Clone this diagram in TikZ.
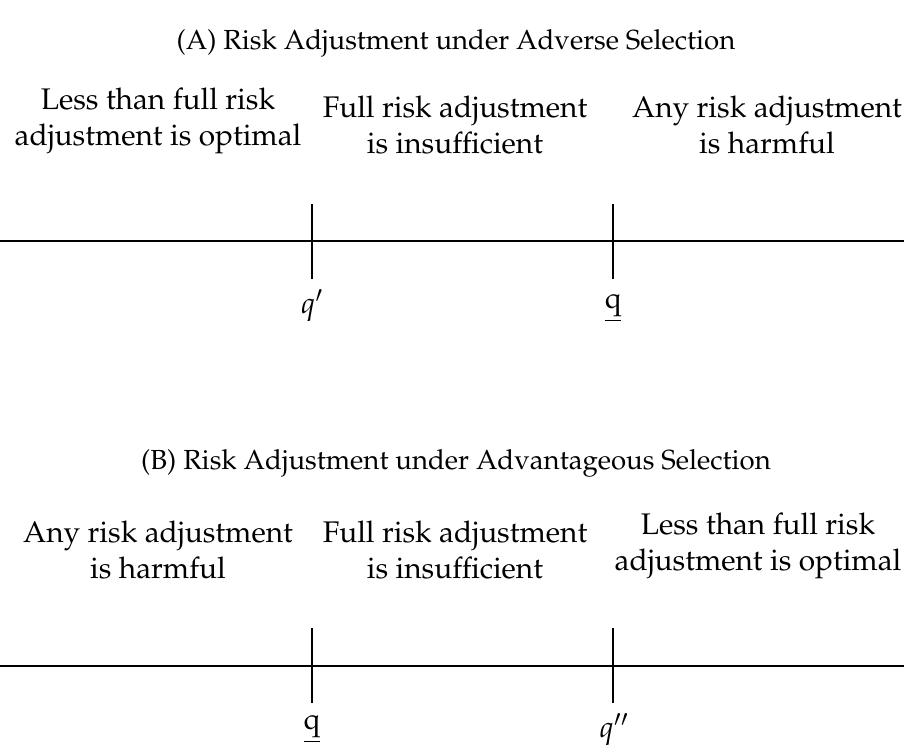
\documentclass[tikz,border=0pt]{standalone}
\usepackage[T1]{fontenc}
\usepackage{mathpazo}
\begin{document}
\begin{tikzpicture}[x=1pt,y=-1pt,
  lbl/.style={align=center,inner sep=0pt,anchor=south,font=\fontsize{29.8}{36}\selectfont},
  ttl/.style={inner sep=0pt,anchor=base,font=\fontsize{27.6}{34}\selectfont},
  mlab/.style={inner sep=0pt,anchor=base,font=\fontsize{29.5}{36}\selectfont},
  axis/.style={line width=1.8pt},
  tick/.style={line width=1.8pt}]
\useasboundingbox (0,0) rectangle (904,744);
% Panel A
\node[ttl] (titleA) at (456,49) {(A) Risk Adjustment under Adverse Selection};
\node[lbl] (a1) at (158,154.5) {Less than full risk\\adjustment is optimal};
\node[lbl] (a2) at (455,154.5) {Full risk adjustment\\is insufficient};
\node[lbl] (a3) at (767,154.5) {Any risk adjustment\\is harmful};
\coordinate (axAL) at (0,241);
\coordinate (axAR) at (904,241);
\draw[axis] (axAL) -- (axAR);
\coordinate (tA1t) at (312,204);
\coordinate (tA1b) at (312,279);
\coordinate (tA2t) at (613,204);
\coordinate (tA2b) at (613,279);
\draw[tick] (tA1t) -- (tA1b);
\draw[tick] (tA2t) -- (tA2b);
\node[mlab] (qpA) at (312,313) {$q'$};
\node[mlab] (qA) at (613,308) {$\underline{\mathrm{q}}$};
% Panel B
\node[ttl] (titleB) at (456,469) {(B) Risk Adjustment under Advantageous Selection};
\node[lbl] (b1) at (158,579) {Any risk adjustment\\is harmful};
\node[lbl] (b2) at (455,579) {Full risk adjustment\\is insufficient};
\node[lbl] (b3) at (758,579) {Less than full risk\\adjustment is optimal};
\coordinate (axBL) at (0,666);
\coordinate (axBR) at (904,666);
\draw[axis] (axBL) -- (axBR);
\coordinate (tB1t) at (312,628);
\coordinate (tB1b) at (312,703);
\coordinate (tB2t) at (613,628);
\coordinate (tB2b) at (613,703);
\draw[tick] (tB1t) -- (tB1b);
\draw[tick] (tB2t) -- (tB2b);
\node[mlab] (qB) at (312,729) {$\underline{\mathrm{q}}$};
\node[mlab] (qppB) at (614,737) {$q''$};
\end{tikzpicture}
\end{document}
